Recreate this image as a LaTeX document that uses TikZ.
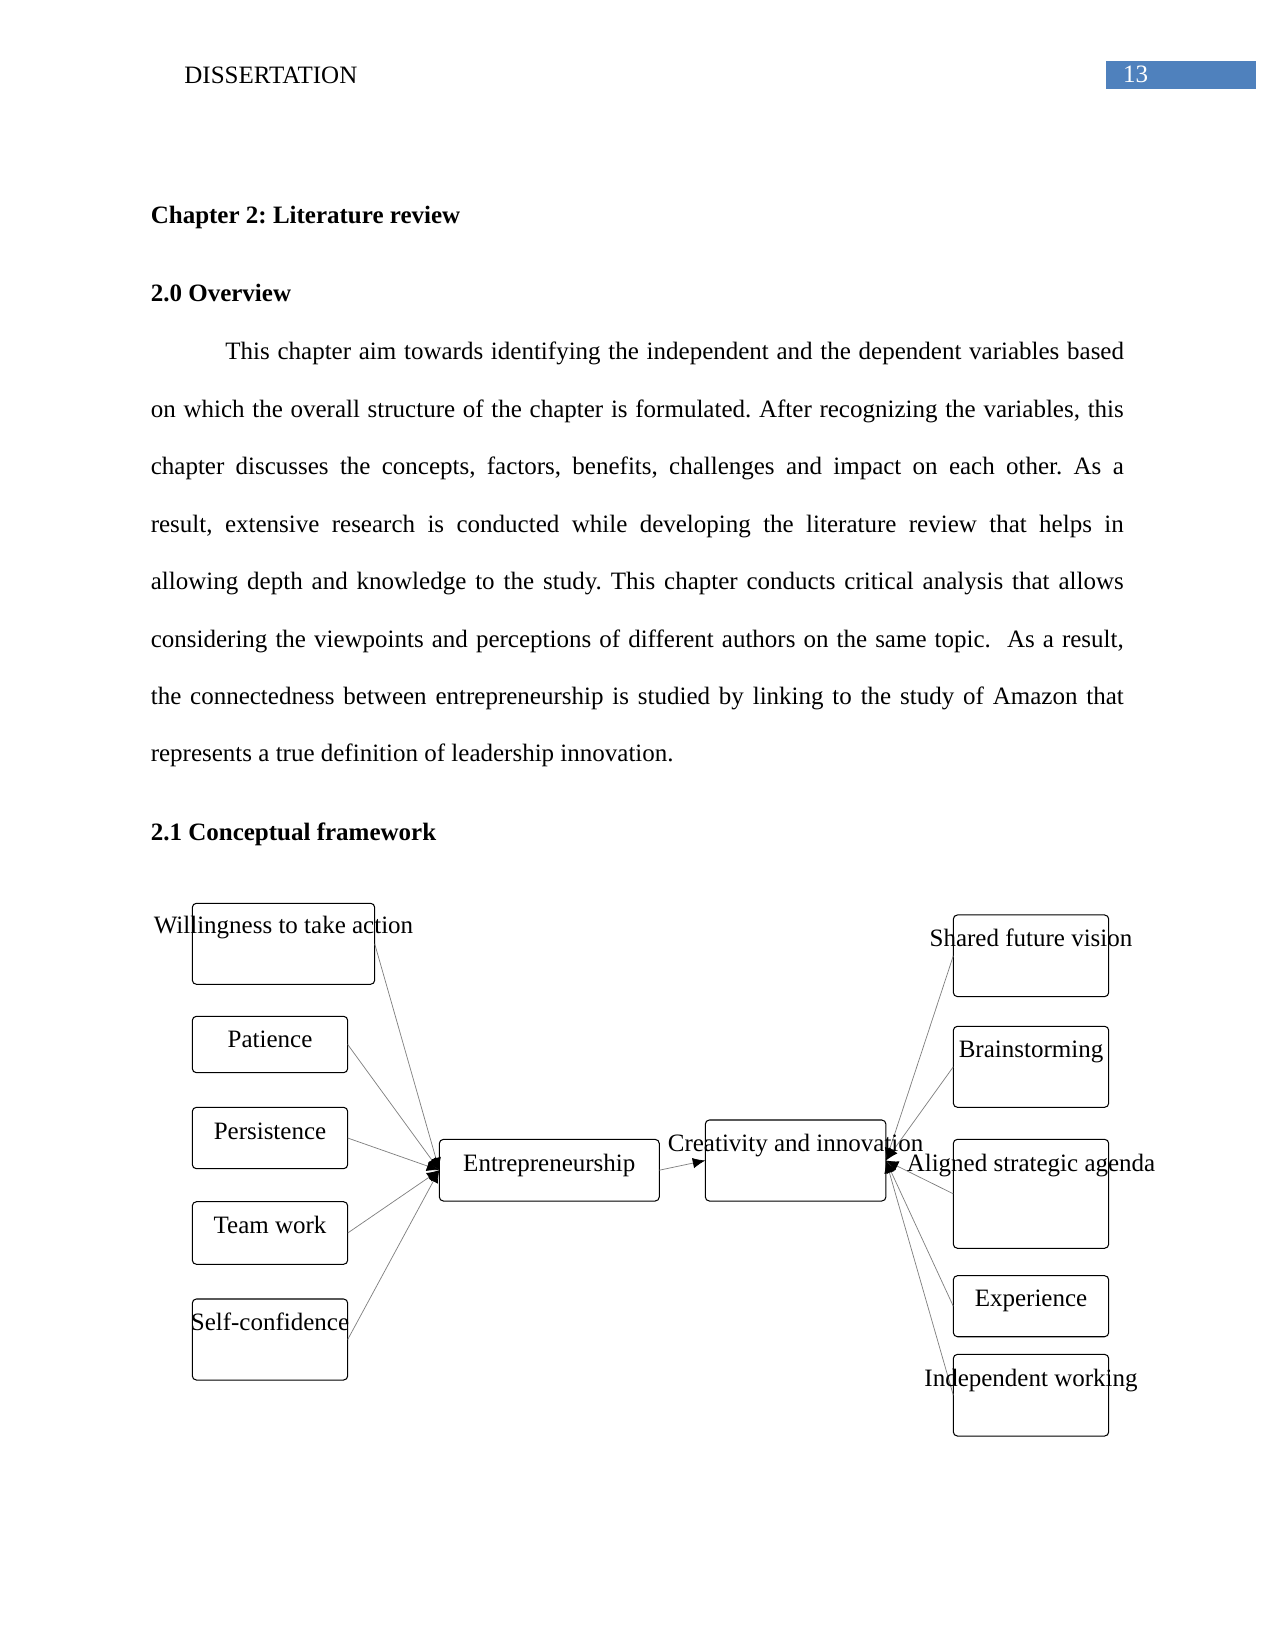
\documentclass[tikz,border=0pt]{standalone}
\usepackage{fontspec}
\setmainfont{Liberation Serif}
\usetikzlibrary{arrows.meta}
\definecolor{hdrblue}{RGB}{79,129,189}
\tikzset{
  box/.style={draw=black, line width=0.5pt, rounded corners=2pt, inner sep=0pt, outer sep=0pt, fill=white},
  lbl/.style={anchor=base, inner sep=0pt, font=\fontsize{12pt}{14pt}\selectfont},
  body/.style={anchor=base west, inner sep=0pt, font=\fontsize{12pt}{14pt}\selectfont},
  link/.style={draw=gray, line width=0.35pt, -{Latex[length=6pt,width=5pt,black]}},
  lw/.style={minimum width=74.6pt},
  rw/.style={minimum width=74.6pt}
}
\frenchspacing
\begin{document}
\begin{tikzpicture}[x=0.48pt,y=-0.48pt]
\useasboundingbox (0,0) rectangle (1275,1650);
% header
\node[body] (hdr) at (184,84) {DISSERTATION};
\node[fill=hdrblue, minimum width=71.8pt, minimum height=13.2pt, inner sep=0pt, anchor=north west] (pg) at (1106,61) {};
\node[body, text=white] (pgn) at (1122.7,83) {13};
% headings
\node[body, font=\fontsize{12pt}{14pt}\selectfont\bfseries] (ch) at (150.4,224) {Chapter 2: Literature review};
\node[body, font=\fontsize{12pt}{14pt}\selectfont\bfseries] (ov) at (150.4,302) {2.0 Overview};
\node[body] (p1) at (225,360) {\makebox[431.3pt][s]{This chapter aim towards identifying the independent and the dependent variables based}};
\node[body] (p2) at (150.4,417.4) {\makebox[467pt][s]{on which the overall structure of the chapter is formulated. After recognizing the variables, this}};
\node[body] (p3) at (150.4,474.8) {\makebox[467pt][s]{chapter discusses the concepts, factors, benefits, challenges and impact on each other. As a}};
\node[body] (p4) at (150.4,532.2) {\makebox[467pt][s]{result, extensive research is conducted while developing the literature review that helps in}};
\node[body] (p5) at (150.4,589.6) {\makebox[467pt][s]{allowing depth and knowledge to the study. This chapter conducts critical analysis that allows}};
\node[body] (p6) at (150.4,647) {\makebox[467pt][s]{considering the viewpoints and perceptions of different authors on the same topic.\ \ As a result,}};
\node[body] (p7) at (150.4,704.4) {\makebox[467pt][s]{the connectedness between entrepreneurship is studied by linking to the study of Amazon that}};
\node[body] (p8) at (150.4,761.8) {represents a true definition of leadership innovation.};
\node[body, font=\fontsize{12pt}{14pt}\selectfont\bfseries] (cf) at (150.4,840.5) {2.1 Conceptual framework};
% left boxes
\node[box, minimum width=87.55pt, minimum height=38.9pt] (wil) at (283.5,943.8) {};
\node[box, lw, minimum height=27.07pt] (pat) at (270,1044.5) {};
\node[box, lw, minimum height=29.47pt] (per) at (270,1138) {};
\node[box, lw, minimum height=30.05pt] (team) at (270,1233) {};
\node[box, lw, minimum height=38.9pt] (self) at (270,1339.5) {};
% centre boxes
\node[box, minimum width=105.6pt, minimum height=29.6pt] (ent) at (549.3,1170.2) {};
\node[box, minimum width=86.7pt, minimum height=38.9pt] (cre) at (795.6,1160.5) {};
% right boxes
\node[box, rw, minimum height=39.2pt] (sfv) at (1031,955.8) {};
\node[box, rw, minimum height=38.9pt] (brain) at (1031,1066.8) {};
\node[box, rw, minimum height=52.3pt] (asa) at (1031,1193.8) {};
\node[box, rw, minimum height=29.3pt] (exp) at (1031,1306.2) {};
\node[box, rw, minimum height=39.2pt] (ind) at (1031,1395.2) {};
% connectors
\draw[link] (wil.east) -- (ent.west);
\draw[link] (pat.east) -- (ent.west);
\draw[link] (per.east) -- (ent.west);
\draw[link] (team.east) -- (ent.west);
\draw[link] (self.east) -- (ent.west);
\draw[link] (ent.east) -- (cre.west);
\draw[link] (sfv.west) -- (cre.east);
\draw[link] (brain.west) -- (cre.east);
\draw[link] (asa.west) -- (cre.east);
\draw[link] (exp.west) -- (cre.east);
\draw[link] (ind.west) -- (cre.east);
% labels
\node[lbl] (wilt) at (283.5,933.5) {Willingness to take action};
\node[lbl] (patt) at (270,1047.5) {Patience};
\node[lbl] (pert) at (270,1139) {Persistence};
\node[lbl] (teamt) at (270,1233) {Team work};
\node[lbl] (selft) at (270,1330) {Self-confidence};
\node[lbl] (entt) at (549.3,1171) {Entrepreneurship};
\node[lbl] (cret) at (795.6,1151) {Creativity and innovation};
\node[lbl] (sfvt) at (1031,946.5) {Shared future vision};
\node[lbl] (braint) at (1031,1057.5) {Brainstorming};
\node[lbl] (asat) at (1031,1171) {Aligned strategic agenda};
\node[lbl] (expt) at (1031,1306) {Experience};
\node[lbl] (indt) at (1031,1386) {Independent working};
\end{tikzpicture}
\end{document}
